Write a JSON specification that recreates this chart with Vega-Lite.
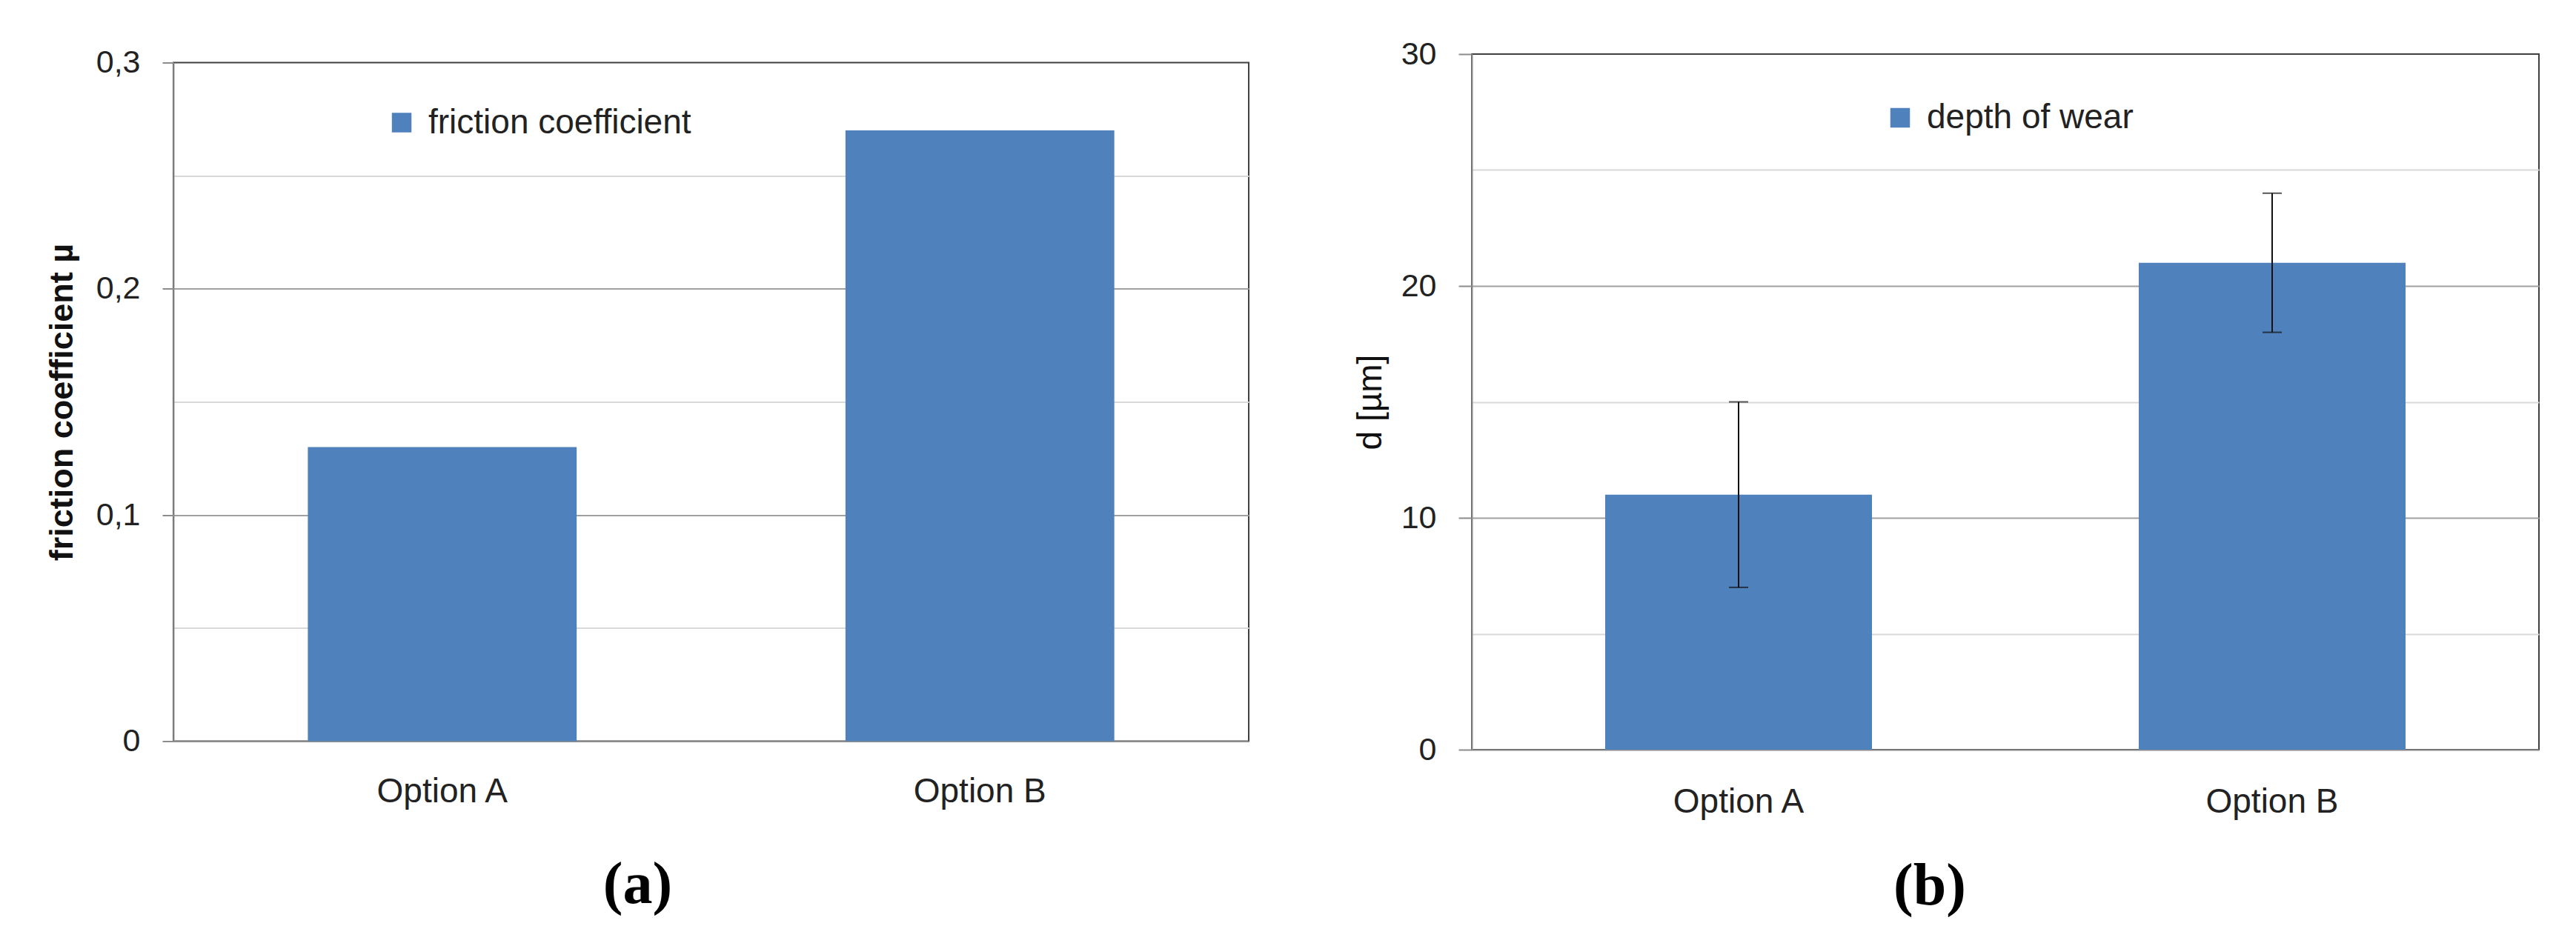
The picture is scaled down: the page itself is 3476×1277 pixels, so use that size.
{
  "$schema": "https://vega.github.io/schema/vega-lite/v6.json",
  "background": "white",
  "padding": {"left": 60, "top": 51, "right": 5, "bottom": 5},
  "autosize": {"type": "pad"},
  "spacing": 301,
  "bounds": "flush",
  "center": true,
  "config": {
    "view": {"stroke": "#404040", "strokeWidth": 2},
    "axis": {
      "domainColor": "#8c8c8c",
      "domainWidth": 2,
      "labelFont": "Liberation Sans",
      "labelColor": "#222222",
      "titleFont": "Liberation Sans",
      "titleColor": "#111111",
      "tickColor": "#8c8c8c",
      "tickWidth": 2
    },
    "legend": {
      "orient": "none",
      "title": null,
      "symbolType": "square",
      "symbolSize": 700,
      "symbolStrokeWidth": 0,
      "symbolOpacity": 1,
      "labelFont": "Liberation Sans",
      "labelFontSize": 46,
      "labelColor": "#222222",
      "labelOffset": 13,
      "labelLimit": 1000
    }
  },
  "resolve": {
    "scale": {"x": "independent", "y": "independent", "color": "independent"},
    "legend": {"color": "independent"}
  },
  "hconcat": [
    {
      "width": 1451,
      "height": 916,
      "title": {
        "text": "(a)", "orient": "bottom", "anchor": "middle", "frame": "group",
        "dx": -99, "offset": 127, "baseline": "alphabetic",
        "font": "Liberation Serif", "fontSize": 80, "fontWeight": "bold", "color": "black"
      },
      "data": {"values": [
        {"option": "Option A", "value": 0.13, "series": "friction coefficient"},
        {"option": "Option B", "value": 0.27, "series": "friction coefficient"}
      ]},
      "mark": {"type": "bar", "opacity": 1},
      "encoding": {
        "x": {
          "field": "option", "type": "nominal",
          "scale": {"paddingInner": 0.5, "paddingOuter": 0.25},
          "axis": {"title": null, "labelAngle": 0, "labelFontSize": 46, "labelPadding": 46, "ticks": false, "tickSize": 0, "grid": false}
        },
        "y": {
          "field": "value", "type": "quantitative",
          "scale": {"domain": [0, 0.3], "nice": false, "zero": true},
          "axis": {
            "title": "friction coefficient µ",
            "titleFontSize": 45, "titleFontWeight": "bold", "titlePadding": 23,
            "values": [0, 0.05, 0.1, 0.15, 0.2, 0.25, 0.3],
            "labelExpr": "datum.value == 0 ? '0' : (round(datum.value*100) % 10 == 0 ? replace(format(datum.value, '.1f'), '.', ',') : '')",
            "labelFontSize": 43, "labelPadding": 30, "tickSize": 15,
            "tickOpacity": {"condition": {"test": "round(datum.value*100) % 10 == 0", "value": 1}, "value": 0},
            "grid": true, "gridWidth": 2,
            "gridColor": {"condition": {"test": "round(datum.value*100) % 10 == 0", "value": "#a0a0a0"}, "value": "#d9d9d9"},
            "gridOpacity": {"condition": {"test": "datum.value == 0 || datum.value > 0.29", "value": 0}, "value": 1}
          }
        },
        "color": {
          "field": "series", "type": "nominal",
          "scale": {"range": ["#4f81bd"]},
          "legend": {"orient": "none", "legendX": 285, "legendY": 58}
        }
      }
    },
    {
      "width": 1440,
      "height": 939,
      "title": {
        "text": "(b)", "orient": "bottom", "anchor": "middle", "frame": "group",
        "dx": -102, "offset": 116, "baseline": "alphabetic",
        "font": "Liberation Serif", "fontSize": 80, "fontWeight": "bold", "color": "black"
      },
      "data": {"values": [
        {"option": "Option A", "value": 11, "lo": 7, "hi": 15, "series": "depth of wear"},
        {"option": "Option B", "value": 21, "lo": 18, "hi": 24, "series": "depth of wear"}
      ]},
      "layer": [
        {
          "mark": {"type": "bar", "opacity": 1},
          "encoding": {
            "x": {
              "field": "option", "type": "nominal",
              "scale": {"paddingInner": 0.5, "paddingOuter": 0.25},
              "axis": {"title": null, "labelAngle": 0, "labelFontSize": 46, "labelPadding": 48, "ticks": false, "tickSize": 0, "grid": false}
            },
            "y": {
              "field": "value", "type": "quantitative",
              "scale": {"domain": [0, 30], "nice": false, "zero": true},
              "axis": {
                "title": "d [µm]",
                "titleFontSize": 46, "titleFontWeight": "normal", "titlePadding": 17,
                "values": [0, 5, 10, 15, 20, 25, 30],
                "labelExpr": "datum.value % 10 == 0 ? format(datum.value, 'd') : ''",
                "labelFontSize": 43, "labelPadding": 30, "tickSize": 18,
                "tickOpacity": {"condition": {"test": "datum.value % 10 == 0", "value": 1}, "value": 0},
                "grid": true, "gridWidth": 2,
                "gridColor": {"condition": {"test": "datum.value % 10 == 0", "value": "#a0a0a0"}, "value": "#d9d9d9"},
                "gridOpacity": {"condition": {"test": "datum.value == 0 || datum.value >= 30", "value": 0}, "value": 1}
              }
            },
            "color": {
              "field": "series", "type": "nominal",
              "scale": {"range": ["#4f81bd"]},
              "legend": {"orient": "none", "legendX": 555, "legendY": 63}
            }
          }
        },
        {
          "mark": {"type": "rule", "color": "#111111", "strokeWidth": 2},
          "encoding": {
            "x": {"field": "option", "type": "nominal"},
            "y": {"field": "lo", "type": "quantitative"},
            "y2": {"field": "hi"}
          }
        },
        {
          "mark": {"type": "tick", "color": "#111111", "size": 26, "thickness": 2},
          "encoding": {
            "x": {"field": "option", "type": "nominal"},
            "y": {"field": "lo", "type": "quantitative"}
          }
        },
        {
          "mark": {"type": "tick", "color": "#111111", "size": 26, "thickness": 2},
          "encoding": {
            "x": {"field": "option", "type": "nominal"},
            "y": {"field": "hi", "type": "quantitative"}
          }
        }
      ]
    }
  ]
}
